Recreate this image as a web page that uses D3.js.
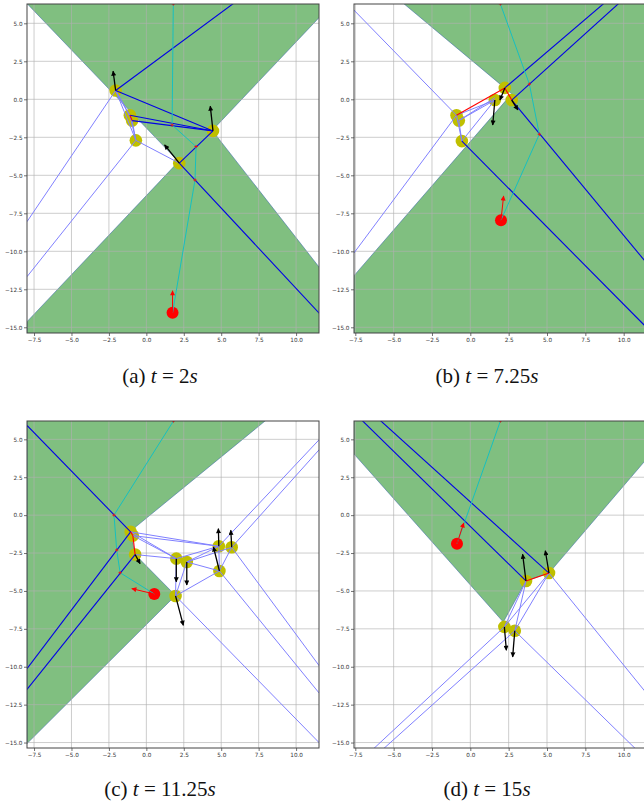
<!DOCTYPE html>
<html>
<head>
<meta charset="utf-8">
<script src="https://cdn.jsdelivr.net/npm/d3@7/dist/d3.min.js"></script>
<style>
  body { margin: 0; background: #fff; }
  svg { display: block; }
  .tick text { font-family: "DejaVu Sans", sans-serif; font-size: 5.7px; fill: #333; }
  .caption { font-family: "Liberation Serif", serif; font-size: 21px; fill: #111; }
</style>
</head>
<body>
<div id="chart"></div>
<script>
'use strict';

// ── Axis ticks ─────────────────────────────────────
var xTicks = [-7.5, -5, -2.5, 0, 2.5, 5, 7.5, 10];
var yTicks = [5, 2.5, 0, -2.5, -5, -7.5, -10, -12.5, -15];
var captionLabels = ['(a)', '(b)', '(c)', '(d)'];
var captionTimes = ['2', '7.25', '11.25', '15'];

// ── (a) t = 2s ─────────────────────────────────────
var aFill = [[-7.97, 6.3], [11.6, 6.3], [11.6, 5.44], [4.4, -2.05], [11.6, -11.12], [11.6, -15.4], [-7.97, -15.4], [-7.97, -14.63], [2.15, -4.1]];
var aPts = [[-2.05, 0.58], [-1.1, -1.05], [-0.95, -1.4], [-0.7, -2.7], [4.45, -2.08], [2.2, -4.2]];
var aAgent = [[1.75, -14.05], [1.75, -12.6]];
var aLight = [
  [[-2.05, 0.58], [-7.97, -8.05]], [[-0.7, -2.7], [-7.97, -11.67]],
  [[-2.05, 0.58], [-1.1, -1.05]], [[-2.05, 0.58], [-0.95, -1.4]], [[-2.05, 0.58], [-0.7, -2.7]],
  [[-1.1, -1.05], [-0.7, -2.7]], [[-0.95, -1.4], [-0.7, -2.7]], [[-0.7, -2.7], [2.2, -4.2]]
];
var aDark = [
  [[-2.05, 0.58], [5.81, 6.3]], [[-2.05, 0.58], [4.45, -2.08]],
  [[-1.1, -1.05], [4.45, -2.08]], [[-0.95, -1.4], [4.45, -2.08]],
  [[4.45, -2.08], [2.2, -4.2]], [[2.2, -4.2], [11.6, -14.13]]
];
var aRed = [[[-1.1, -1.05], [-0.95, -1.4]]];
var aPath = [[1.75, -14.05], [3.25, -5.31], [3.32, -3.11], [1.72, -1.69], [1.8, 6.27]];
var aArrows = [[[-2.05, 0.58], [-2.22, 1.85]], [[4.45, -2.08], [4.27, -0.45]], [[2.2, -4.2], [1.22, -3.0]]];

// ── (b) t = 7.25s ──────────────────────────────────
var bFill = [[-4.35, 6.3], [11.6, 6.3], [11.6, -15.4], [-7.6, -15.4], [-7.6, -11.62], [2.7, 0.36]];
var bPts = [[-0.9, -1.05], [-0.75, -1.4], [-0.55, -2.75], [1.6, -0.05], [2.25, 0.75], [2.7, -0.05]];
var bAgent = [[2.0, -7.95], [2.17, -6.36]];
var bLight = [
  [[-0.9, -1.05], [-7.6, 5.88]], [[-0.9, -1.05], [-7.6, -10.13]],
  [[-0.9, -1.05], [1.6, -0.05]], [[-0.75, -1.4], [1.6, -0.05]], [[-0.55, -2.75], [1.6, -0.05]],
  [[-0.9, -1.05], [-0.55, -2.75]], [[-0.75, -1.4], [-0.55, -2.75]], [[-0.75, -1.4], [1.6, 0.1]]
];
var bDark = [
  [[2.25, 0.75], [8.7, 6.3]], [[2.7, -0.05], [9.67, 6.3]],
  [[2.7, -0.05], [12, -11.39]], [[-0.55, -2.75], [12, -15.53]]
];
var bRed = [[[-0.9, -1.05], [2.25, 0.75]], [[2.25, 0.75], [2.7, -0.05]]];
var bPath = [[2.0, -7.95], [4.5, -2.3], [3.85, 1.0], [1.96, 6.27]];
var bArrows = [[[1.6, -0.05], [1.46, -1.69]], [[2.25, 0.75], [1.93, -0.05]], [[2.7, -0.05], [3.1, -0.7]]];

// ── (c) t = 11.25s ─────────────────────────────────
var cFill = [[-7.97, 6.3], [8.04, 6.3], [-1.05, -1.05], [-0.75, -2.6], [1.95, -5.3], [-7.97, -15.07]];
var cPts = [[-1.05, -1.1], [-0.9, -1.35], [-0.75, -2.6], [2.0, -2.87], [2.7, -3.09], [1.95, -5.33], [4.84, -2.05], [5.7, -2.12], [4.88, -3.68]];
var cAgent = [[0.53, -5.2], [-0.97, -4.85]];
var cLight = [
  [[-1.05, -1.1], [4.84, -2.05]], [[-0.9, -1.35], [4.84, -2.05]],
  [[-1.05, -1.1], [2.0, -2.87]], [[-0.9, -1.35], [2.0, -2.87]], [[-0.75, -2.6], [2.0, -2.87]],
  [[2.0, -2.87], [4.84, -2.05]], [[2.7, -3.09], [4.84, -2.05]], [[2.7, -3.09], [5.7, -2.12]],
  [[2.7, -3.09], [4.88, -3.68]], [[1.95, -5.33], [4.88, -3.68]], [[1.95, -5.33], [2.0, -2.87]],
  [[1.95, -5.33], [2.7, -3.09]], [[4.88, -3.68], [4.84, -2.05]], [[4.88, -3.68], [5.7, -2.12]],
  [[4.84, -2.05], [11.6, 5.04]], [[5.7, -2.12], [11.6, 4.38]],
  [[5.7, -2.12], [11.6, -10.01]], [[4.88, -3.68], [11.6, -11.81]], [[1.95, -5.33], [11.6, -15.07]]
];
var cDark = [[[-7.97, 5.92], [-1.05, -1.1]], [[-1.05, -1.1], [-7.97, -10.12]], [[-0.75, -2.6], [-7.97, -11.5]]];
var cRed = [[[-1.05, -1.1], [-0.9, -1.35]], [[-0.9, -1.35], [-0.75, -2.6]]];
var cPath = [[0.53, -5.2], [-1.75, -3.8], [-1.98, -2.3], [-2.16, 0.0], [1.81, 6.21]];
var cArrows = [
  [[2.0, -2.87], [2.0, -4.4]], [[2.7, -3.09], [2.7, -4.6]], [[1.95, -5.33], [2.47, -7.27]],
  [[4.84, -2.05], [4.81, -0.89]], [[5.7, -2.12], [5.64, -1.0]], [[4.88, -3.68], [4.48, -2.1]],
  [[-0.75, -2.6], [-0.42, -3.2]]
];

// ── (d) t = 15s ────────────────────────────────────
var dFill = [[-7.6, 6.3], [11.6, 6.3], [11.6, 3.83], [5.13, -3.82], [3.63, -4.34], [2.15, -7.05], [-7.6, 4.05]];
var dPts = [[3.63, -4.34], [5.13, -3.82], [2.22, -7.37], [2.9, -7.63]];
var dAgent = [[-0.87, -1.88], [-0.43, -0.52]];
var dLight = [
  [[2.22, -7.37], [3.63, -4.34]], [[2.9, -7.63], [3.63, -4.34]],
  [[2.22, -7.37], [5.13, -3.82]], [[2.9, -7.63], [5.13, -3.82]],
  [[2.22, -7.37], [-6.3, -15.4]], [[2.9, -7.63], [-5.65, -15.4]],
  [[2.9, -7.63], [10.76, -15.4]], [[5.13, -3.82], [11.6, -11.89]]
];
var dDark = [[[3.63, -4.34], [-7.11, 6.3]], [[5.13, -3.82], [-5.93, 6.3]]];
var dRed = [[[3.63, -4.34], [5.13, -3.82]]];
var dPath = [[-0.87, -1.88], [1.96, 6.21]];
var dArrows = [[[3.63, -4.34], [3.41, -2.58]], [[5.13, -3.82], [4.89, -2.35]], [[2.22, -7.37], [2.35, -8.91]], [[2.9, -7.63], [2.76, -9.35]]];

var panelData = [
  { fill: aFill, pts: aPts, agent: aAgent, light: aLight, dark: aDark, red: aRed, path: aPath, arrows: aArrows },
  { fill: bFill, pts: bPts, agent: bAgent, light: bLight, dark: bDark, red: bRed, path: bPath, arrows: bArrows },
  { fill: cFill, pts: cPts, agent: cAgent, light: cLight, dark: cDark, red: cRed, path: cPath, arrows: cArrows },
  { fill: dFill, pts: dPts, agent: dAgent, light: dLight, dark: dDark, red: dRed, path: dPath, arrows: dArrows }
];

// Pixel frames of the four axes
var frames = [
  { left: 27, right: 319, xd: [-7.97, 11.53], top: 4, bottom: 333, yd: [-15.375, 6.27], cx: 160, cy: 383 },
  { left: 354, right: 646, xd: [-7.585, 11.455], top: 4, bottom: 333, yd: [-15.375, 6.27], cx: 487, cy: 383 },
  { left: 27, right: 319, xd: [-7.97, 11.53], top: 421, bottom: 748, yd: [-15.36, 6.21], cx: 160, cy: 796 },
  { left: 354, right: 646, xd: [-7.585, 11.455], top: 421, bottom: 748, yd: [-15.36, 6.21], cx: 487, cy: 796 }
];

var svg = d3.select('#chart').append('svg')
  .attr('width', 644)
  .attr('height', 804);

var defs = svg.append('defs');
function addHead(id, color) {
  defs.append('marker')
    .attr('id', id)
    .attr('viewBox', '0 0 10 10')
    .attr('refX', 9).attr('refY', 5)
    .attr('markerUnits', 'userSpaceOnUse')
    .attr('markerWidth', 6).attr('markerHeight', 5)
    .attr('orient', 'auto')
    .append('path').attr('d', 'M0,0 L10,5 L0,10 Z').attr('fill', color);
}
addHead('head-k', '#000');
addHead('head-r', '#f00');

var fmt = function (v) { return d3.format('.1f')(v).replace('-', '\u2212'); };

frames.forEach(function (f, i) {
  var d = panelData[i];
  var x = d3.scaleLinear().domain(f.xd).range([f.left, f.right]);
  var y = d3.scaleLinear().domain(f.yd).range([f.bottom, f.top]);
  var line = d3.line().x(function (p) { return x(p[0]); }).y(function (p) { return y(p[1]); });

  defs.append('clipPath').attr('id', 'clip' + i)
    .append('rect')
    .attr('x', f.left).attr('y', f.top)
    .attr('width', f.right - f.left).attr('height', f.bottom - f.top);

  var g = svg.append('g').attr('clip-path', 'url(#clip' + i + ')');

  // feasible region
  g.append('path')
    .attr('d', line(d.fill) + 'Z')
    .attr('fill', '#80bf80')
    .attr('stroke', '#3b6aa8')
    .attr('stroke-width', 0.7)
    .attr('stroke-opacity', 0.8);

  // grid
  g.selectAll('line.gx').data(xTicks).join('line')
    .attr('x1', function (v) { return x(v); }).attr('x2', function (v) { return x(v); })
    .attr('y1', f.top).attr('y2', f.bottom)
    .attr('stroke', '#b0b0b0').attr('stroke-opacity', 0.8).attr('stroke-width', 0.8);
  g.selectAll('line.gy').data(yTicks).join('line')
    .attr('y1', function (v) { return y(v); }).attr('y2', function (v) { return y(v); })
    .attr('x1', f.left).attr('x2', f.right)
    .attr('stroke', '#b0b0b0').attr('stroke-opacity', 0.8).attr('stroke-width', 0.8);

  // robots and agent
  g.selectAll('circle.pt').data(d.pts).join('circle')
    .attr('cx', function (p) { return x(p[0]); })
    .attr('cy', function (p) { return y(p[1]); })
    .attr('r', 6.3)
    .attr('fill', '#bfbf00');
  g.append('circle')
    .attr('cx', x(d.agent[0][0])).attr('cy', y(d.agent[0][1]))
    .attr('r', 6)
    .attr('fill', '#ff0000');

  // connection lines
  function segs(data, color, width) {
    g.append('g').selectAll('path').data(data).join('path')
      .attr('d', line)
      .attr('fill', 'none')
      .attr('stroke', color)
      .attr('stroke-width', width);
  }
  segs(d.light, '#8080ff', 1);
  segs(d.dark, '#0000e6', 1.1);
  segs(d.red, '#ff0000', 1.1);

  // agent path
  g.append('path')
    .attr('d', line(d.path))
    .attr('fill', 'none')
    .attr('stroke', '#17bfbf')
    .attr('stroke-width', 1);
  g.selectAll('path.mark').data(d.path.slice(1)).join('path')
    .attr('d', function (p) {
      var px = x(p[0]), py = y(p[1]);
      return 'M' + (px - 1.6) + ',' + py + 'H' + (px + 1.6) + 'M' + px + ',' + (py - 1.6) + 'V' + (py + 1.6);
    })
    .attr('stroke', '#ff0000')
    .attr('stroke-width', 0.9);

  // velocity arrows
  g.append('g').selectAll('path').data(d.arrows).join('path')
    .attr('d', line)
    .attr('stroke', '#000')
    .attr('stroke-width', 1.3)
    .attr('marker-end', 'url(#head-k)');
  g.append('path')
    .attr('d', line(d.agent))
    .attr('stroke', '#f00')
    .attr('stroke-width', 1)
    .attr('marker-end', 'url(#head-r)');

  // axes
  var ax = svg.append('g');
  ax.append('g')
    .attr('transform', 'translate(0,' + f.bottom + ')')
    .call(d3.axisBottom(x).tickValues(xTicks).tickSize(3).tickPadding(1.5).tickFormat(fmt))
    .call(function (s) { s.select('.domain').remove(); });
  ax.append('g')
    .attr('transform', 'translate(' + f.left + ',0)')
    .call(d3.axisLeft(y).tickValues(yTicks).tickSize(3).tickPadding(1.5).tickFormat(fmt))
    .call(function (s) { s.select('.domain').remove(); });
  ax.selectAll('.tick line').attr('stroke', '#333').attr('stroke-width', 0.7);
  ax.append('rect')
    .attr('x', f.left).attr('y', f.top)
    .attr('width', f.right - f.left).attr('height', f.bottom - f.top)
    .attr('fill', 'none').attr('stroke', '#444').attr('stroke-width', 1);

  // caption
  var cap = svg.append('text').attr('class', 'caption')
    .attr('x', f.cx).attr('y', f.cy).attr('text-anchor', 'middle');
  cap.append('tspan').text(captionLabels[i] + ' ');
  cap.append('tspan').attr('font-style', 'italic').text('t');
  cap.append('tspan').text('\u2005=\u2005' + captionTimes[i]);
  cap.append('tspan').attr('font-style', 'italic').text('s');
});
</script>
</body>
</html>
